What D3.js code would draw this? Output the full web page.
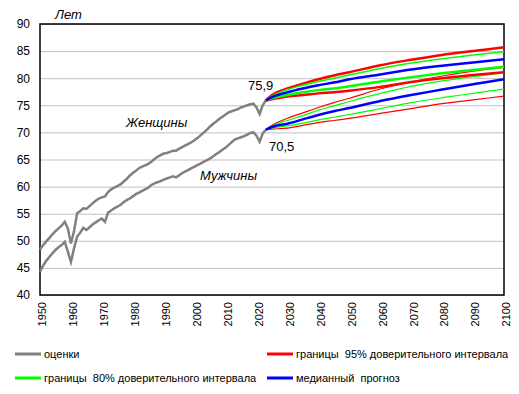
<!DOCTYPE html>
<html>
<head>
<meta charset="utf-8">
<script src="https://cdn.jsdelivr.net/npm/d3@7"></script>
<style>
  body { margin: 0; background: #fff; }
  text { font-family: Arial, "Liberation Sans", sans-serif; fill: #000; }
</style>
</head>
<body>
<script>
/* global d3 */

// historical estimates, 1950-2023
var histYears = d3.range(1950, 2024);
var womenHist = [48.4, 49.2, 49.9, 50.5, 51.2, 51.8, 52.3, 52.8, 53.5, 52.3,
    49.5, 51.8, 55.1, 55.5, 56.0, 55.9, 56.4, 56.9, 57.4, 57.8,
    58.0, 58.2, 59.0, 59.5, 59.8, 60.1, 60.4, 60.9, 61.4, 62.0,
    62.5, 62.9, 63.4, 63.7, 63.9, 64.2, 64.6, 65.1, 65.5, 65.8,
    66.1, 66.2, 66.4, 66.6, 66.6, 67.0, 67.3, 67.6, 67.9, 68.2,
    68.6, 69.0, 69.5, 70.0, 70.5, 71.1, 71.6, 72.0, 72.5, 72.9,
    73.3, 73.7, 73.9, 74.1, 74.3, 74.6, 74.8, 75.0, 75.2, 75.3,
    74.6, 73.4, 75.0, 75.9];
var menHist = [44.3, 45.4, 46.3, 47.0, 47.7, 48.3, 48.8, 49.2, 49.8, 48.0,
    46.1, 48.6, 50.8, 51.5, 52.4, 52.0, 52.5, 53.0, 53.4, 53.8,
    54.1, 53.5, 55.2, 55.6, 56.0, 56.3, 56.6, 57.1, 57.5, 57.8,
    58.2, 58.6, 58.9, 59.2, 59.5, 59.8, 60.3, 60.6, 60.8, 61.0,
    61.3, 61.5, 61.7, 61.9, 61.7, 62.1, 62.5, 62.8, 63.1, 63.4,
    63.7, 64.0, 64.3, 64.6, 64.9, 65.2, 65.6, 66.0, 66.4, 66.8,
    67.2, 67.7, 68.2, 68.7, 68.9, 69.1, 69.3, 69.6, 69.9, 70.0,
    69.4, 68.3, 69.8, 70.5];

// projections, 2023-2100
var projYears = [2023, 2025, 2030, 2035, 2040, 2045, 2050, 2060, 2070, 2080, 2090, 2100];
var womenUp95 = [75.9, 76.9, 78.1, 79.0, 79.8, 80.5, 81.1, 82.4, 83.4, 84.3, 85.0, 85.7];
var womenUp80 = [75.9, 76.7, 77.9, 78.7, 79.4, 80.0, 80.6, 81.8, 82.8, 83.6, 84.3, 84.9];
var womenMed = [75.9, 76.5, 77.4, 78.1, 78.7, 79.2, 79.8, 80.7, 81.6, 82.3, 82.9, 83.5];
var womenLow80 = [75.9, 76.3, 76.9, 77.4, 77.8, 78.1, 78.5, 79.4, 80.2, 80.9, 81.5, 82.1];
var womenLow95 = [75.9, 76.1, 76.6, 76.9, 77.2, 77.4, 77.7, 78.4, 79.3, 80.0, 80.6, 81.1];
var menUp95 = [70.5, 71.3, 72.6, 73.6, 74.6, 75.5, 76.3, 78.0, 79.3, 80.4, 81.3, 82.0];
var menUp80 = [70.5, 71.2, 72.2, 73.1, 74.1, 74.9, 75.7, 77.2, 78.5, 79.5, 80.3, 81.0];
var menMed = [70.5, 71.0, 71.6, 72.4, 73.2, 73.9, 74.5, 75.8, 76.9, 77.9, 78.9, 79.8];
var menLow80 = [70.5, 70.8, 71.2, 71.7, 72.3, 72.8, 73.3, 74.4, 75.5, 76.4, 77.2, 78.0];
var menLow95 = [70.5, 70.6, 70.8, 71.3, 71.8, 72.2, 72.6, 73.5, 74.4, 75.3, 76.0, 76.7];

var xTicks = d3.range(1950, 2101, 10);
var yTicks = d3.range(40, 91, 5);

var legendLabels = ["оценки", "границы  95% доверительного интервала",
    "границы  80% доверительного интервала", "медианный  прогноз"];
var legendColors = ["#808080", "#ff0000", "#00ff00", "#0000ff"];

var width = 519;
var height = 394;
var margin = {top: 24, right: 15, bottom: 99, left: 40};
var w = width - margin.left - margin.right,
        h = height - margin.top - margin.bottom;

var svg = d3.select("body")
        .append("svg")
        .attr("width", width)
        .attr("height", height);

var x = d3.scaleLinear().domain([1950, 2100]).range([0, w]);
var y = d3.scaleLinear().domain([40, 90]).range([h, 0]);

var g = svg.append("g")
        .attr("transform", "translate(" + margin.left + "," + margin.top + ")");

// gridlines + y labels
var yAxis = g.append("g")
        .call(d3.axisLeft(y).tickValues(yTicks).tickSize(-w).tickPadding(10));
yAxis.select(".domain").remove();
yAxis.selectAll("line").attr("stroke", "#c0c0c0");
yAxis.selectAll("text").style("font-size", "12px").attr("fill", "#000");

var xAxis = g.append("g")
        .attr("transform", "translate(0," + h + ")")
        .call(d3.axisBottom(x).tickValues(xTicks).tickSize(0).tickFormat(d3.format("d")));
xAxis.select(".domain").remove();
xAxis.selectAll("text")
        .style("font-size", "11px")
        .style("text-anchor", "end")
        .attr("fill", "#000")
        .attr("transform", "rotate(-90)")
        .attr("x", -7)
        .attr("y", 2)
        .attr("dy", "0.35em");

g.append("rect")
        .attr("width", w)
        .attr("height", h)
        .attr("fill", "none")
        .attr("stroke", "#000")
        .attr("stroke-width", 1.5);

var histLine = d3.line()
        .x(function (d, i) {
            return x(histYears[i]);
        })
        .y(function (d) {
            return y(d);
        });

var projLine = d3.line()
        .curve(d3.curveMonotoneX)
        .x(function (d, i) {
            return x(projYears[i]);
        })
        .y(function (d) {
            return y(d);
        });

[womenHist, menHist].forEach(function (s) {
    g.append("path")
            .datum(s)
            .attr("d", histLine)
            .attr("fill", "none")
            .attr("stroke", "#808080")
            .attr("stroke-width", 2.5);
});

var proj = [
    [menLow95, "#ff0000", 1.2], [menUp95, "#ff0000", 1.2],
    [menLow80, "#00ff00", 1.2], [menUp80, "#00ff00", 1.2],
    [menMed, "#0000ff", 2.5],
    [womenLow95, "#ff0000", 2.5], [womenUp95, "#ff0000", 2.5],
    [womenUp80, "#00ff00", 1.5], [womenLow80, "#00ff00", 2.5],
    [womenMed, "#0000ff", 2.5]
];
proj.forEach(function (p) {
    g.append("path")
            .datum(p[0])
            .attr("d", projLine)
            .attr("fill", "none")
            .attr("stroke", p[1])
            .attr("stroke-width", p[2]);
});

// annotations
svg.append("text").attr("x", 55).attr("y", 19)
        .style("font-size", "13px").style("font-style", "italic").text("Лет");
svg.append("text").attr("x", 126).attr("y", 127)
        .style("font-size", "13px").style("font-style", "italic").text("Женщины");
svg.append("text").attr("x", 200).attr("y", 180)
        .style("font-size", "13px").style("font-style", "italic").text("Мужчины");
svg.append("text").attr("x", 248).attr("y", 90)
        .style("font-size", "13px").text("75,9");
svg.append("text").attr("x", 269).attr("y", 151)
        .style("font-size", "13px").text("70,5");

// legend
var legPos = [[15, 354], [267, 354], [15, 378], [267, 378]];
var leg = svg.selectAll(".leg")
        .data(legendLabels)
        .enter().append("g")
        .attr("class", "leg")
        .attr("transform", function (d, i) {
            return "translate(" + legPos[i][0] + "," + legPos[i][1] + ")";
        });
leg.append("line")
        .attr("x1", 0).attr("x2", 26)
        .attr("stroke", function (d, i) {
            return legendColors[i];
        })
        .attr("stroke-width", 3);
leg.append("text")
        .attr("x", 29)
        .attr("y", 4)
        .style("font-size", "11px")
        .style("white-space", "pre")
        .text(function (d) {
            return d;
        });
</script>
</body>
</html>
